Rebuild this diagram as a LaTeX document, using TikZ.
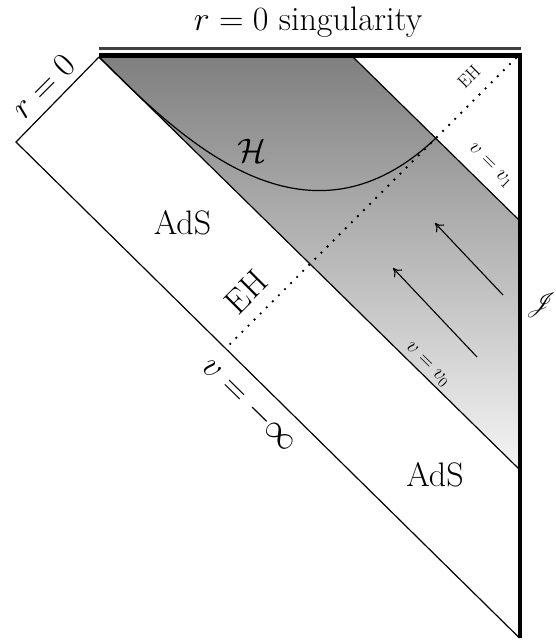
\RequirePackage{fix-cm}
\documentclass[tikz,border=0pt]{standalone}
\usepackage{amsmath,amssymb}
\usepackage{mathrsfs}
\usepackage{tikz}
\usetikzlibrary{arrows.meta}

\begin{document}
\begin{tikzpicture}[
    x=1pt,y=-1pt,
    nullln/.style={line width=1.2pt},
    bdry/.style={line width=4pt},
    horizon/.style={line width=2.6pt,line cap=round,dash pattern=on 0pt off 8.6pt},
    flow/.style={-{To[length=8pt,width=11pt]},line width=1.1pt},
    biglab/.style={font=\fontsize{34}{40}\selectfont,inner sep=0pt},
    midlab/.style={font=\fontsize{21}{25}\selectfont,inner sep=0pt},
    smlab/.style={font=\fontsize{18}{21}\selectfont,inner sep=0pt}
  ]
  \useasboundingbox (0,0) rectangle (556,642);

  % corners of the diagram
  \coordinate (tl) at (99,57);
  \coordinate (lc) at (16,142);
  \coordinate (bot) at (519.5,638);
  \coordinate (scritop) at (519.5,53);
  \coordinate (v1top) at (353,57);
  \coordinate (v1bd) at (520,221);
  \coordinate (v0bd) at (520,470);
  \coordinate (ehtop) at (516,58);
  \coordinate (ehdir) at (216,358);
  \coordinate (ehbot) at (intersection of ehtop--ehdir and lc--bot);
  \coordinate (ehv1) at (intersection of ehtop--ehdir and v1top--v1bd);
  \coordinate (singa) at (99,48.5);
  \coordinate (singb) at (521,48.5);
  \coordinate (singc) at (99,55.5);
  \coordinate (singd) at (521,55.5);

  % infalling shell
  \shade[top color=black!50,bottom color=black!4] (tl) -- (v1top) -- (v1bd) -- (v0bd) -- cycle;

  \draw[nullln] (tl) -- (lc) -- (bot);
  \draw[nullln] (tl) -- (v0bd);
  \draw[nullln] (v1top) -- (v1bd);
  \draw[horizon] (ehtop) -- (ehbot);
  \draw[nullln] (tl) .. controls (180,138) and (305,262) .. (ehv1);

  % singularity and boundary
  \draw[line width=2.5pt,black!75] (singa) -- (singb);
  \draw[line width=4.5pt] (singc) -- (singd);
  \draw[bdry] (scritop) -- (bot);

  % flux arrows
  \coordinate (fa1) at (503,295);
  \coordinate (fb1) at (435,223);
  \coordinate (fa2) at (477,357);
  \coordinate (fb2) at (393,268);
  \draw[flow] (fa1) -- (fb1);
  \draw[flow] (fa2) -- (fb2);

  % labels
  \node[biglab,anchor=base] (title) at (308,31) {$r=0$ singularity};
  \node[biglab,rotate=45] (rzero) at (43,86) {$r=0$};
  \node[biglab,anchor=base] (ads1) at (182.5,234) {AdS};
  \node[biglab,anchor=base] (ads2) at (435,486) {AdS};
  \node[biglab,rotate=45] (ehbig) at (246,292) {EH};
  \node[smlab,rotate=45] (ehsm) at (469,77) {EH};
  \node[biglab,rotate=-44.5] (vinf) at (250,405) {$v=-\infty$};
  \node[midlab,rotate=-44.5] (vzero) at (427,365) {$v=v_0$};
  \node[midlab,rotate=-44.5] (vone) at (490,166) {$v=v_1$};
  \node[biglab] (hor) at (252,151) {$\mathcal{H}$};
  \node[biglab] (scri) at (541,305) {$\mathscr{J}$};
\end{tikzpicture}
\end{document}
